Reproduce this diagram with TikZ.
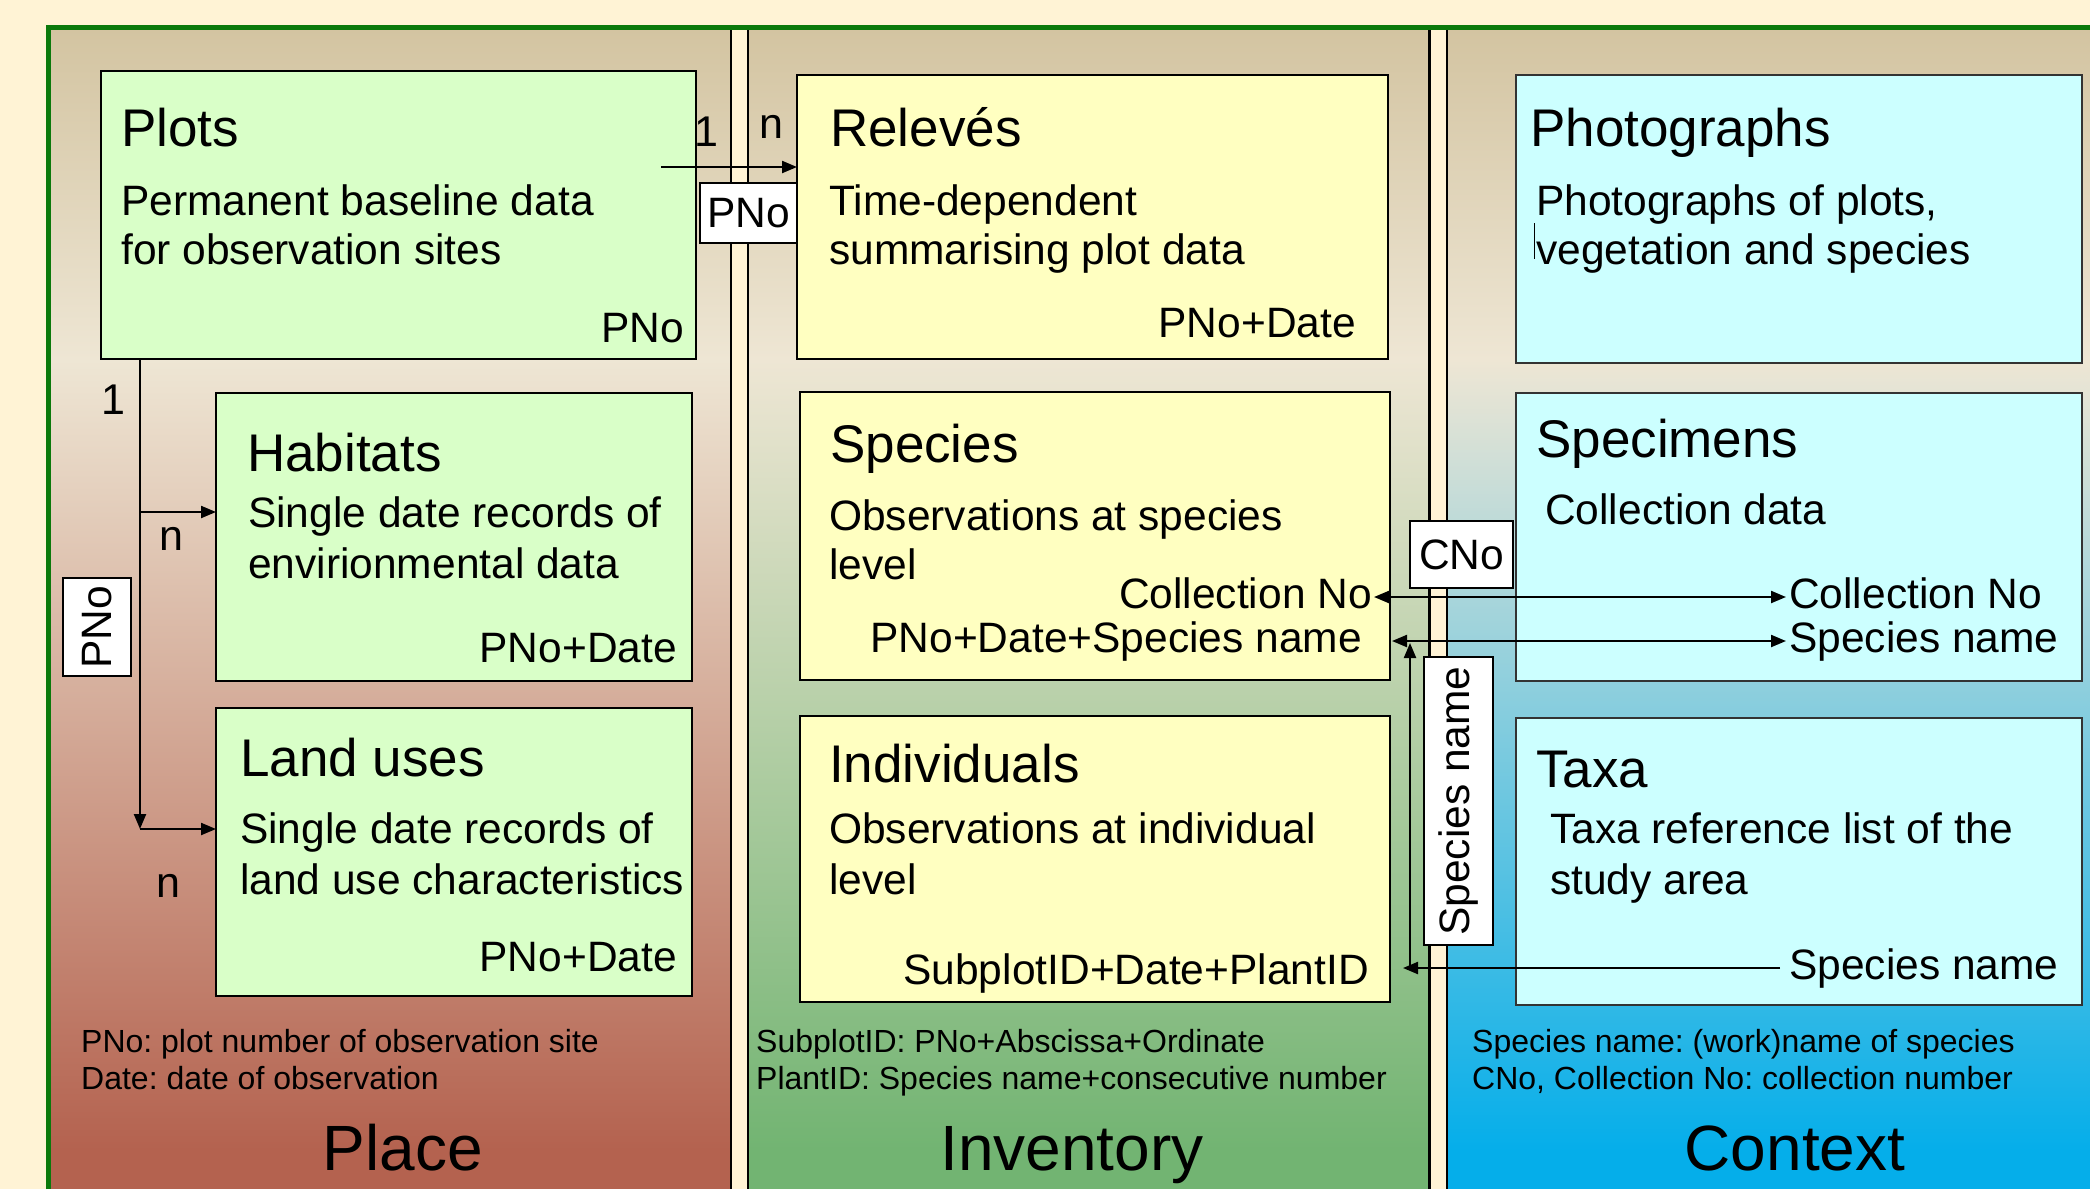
\documentclass[tikz,border=0pt]{standalone}
\usepackage{fontspec}
\setmainfont{Liberation Sans}
\usetikzlibrary{arrows.meta}
\frenchspacing

\definecolor{bgcream}{HTML}{FFF3D5}
\definecolor{framegreen}{HTML}{0B790B}
\definecolor{tan}{HTML}{D3C4A1}
\definecolor{paneLight}{HTML}{EEE6D4}
\definecolor{placeBot}{HTML}{B4624F}
\definecolor{invBot}{HTML}{72B472}
\definecolor{ctxBot}{HTML}{05AEEA}
\definecolor{placeFill}{HTML}{D9FFC8}
\definecolor{invFill}{HTML}{FFFFC1}
\definecolor{ctxFill}{HTML}{CCFFFF}
\definecolor{ctxEdge}{HTML}{333333}

\begin{document}
\begin{tikzpicture}[x=1pt,y=-1pt,
  tbox/.style={draw=black, line width=2.8pt, inner sep=0pt, outer sep=0pt},
  placebox/.style={tbox, fill=placeFill},
  invbox/.style={tbox, fill=invFill},
  ctxbox/.style={tbox, draw=ctxEdge, fill=ctxFill},
  ttl/.style={font=\fontsize{53}{60}\selectfont, inner sep=0pt, anchor=base west},
  body/.style={font=\fontsize{42.5}{50}\selectfont, inner sep=0pt, anchor=base west},
  keyR/.style={font=\fontsize{42.5}{50}\selectfont, inner sep=0pt, anchor=base east},
  keyL/.style={font=\fontsize{42.5}{50}\selectfont, inner sep=0pt, anchor=base west},
  card/.style={font=\fontsize{43}{50}\selectfont, inner sep=0pt, anchor=center},
  keybox/.style={draw=black, line width=2.4pt, fill=white, inner sep=0pt,
    font=\fontsize{42.5}{50}\selectfont},
  note/.style={font=\fontsize{32}{37}\selectfont, inner sep=0pt, anchor=base west},
  panelname/.style={font=\fontsize{64}{70}\selectfont, inner sep=0pt, anchor=base},
  conn/.style={draw=black, line width=2.2pt},
  tip/.style={-{Triangle[length=15pt,width=12pt]}},
  tips/.style={{Triangle[length=15pt,width=12pt]}-{Triangle[length=15pt,width=12pt]}},
  divider/.style={draw=black, line width=2.6pt}
]
\useasboundingbox (0,0) rectangle (2090,1189);
\fill[bgcream] (0,0) rectangle (2090,1189);

% ---- the three panels: tan at the top, light band, then their own colour
\shade[top color=tan, bottom color=paneLight] (50,29) rectangle (731,360);
\shade[top color=paneLight, bottom color=placeBot] (50,359.5) rectangle (731,1150);
\fill[placeBot] (50,1149.5) rectangle (731,1189);

\shade[top color=tan, bottom color=paneLight] (748,29) rectangle (1429,360);
\shade[top color=paneLight, bottom color=invBot] (748,359.5) rectangle (1429,1150);
\fill[invBot] (748,1149.5) rectangle (1429,1189);

\shade[top color=tan, bottom color=paneLight] (1447,29) rectangle (2090,360);
\shade[top color=paneLight, bottom color=ctxBot] (1447,359.5) rectangle (2090,1150);
\fill[ctxBot] (1447,1149.5) rectangle (2090,1189);

\draw[divider] (731,29) -- (731,1189);
\draw[divider] (748,29) -- (748,1189);
\draw[divider] (1429.5,29) -- (1429.5,1189);
\draw[divider] (1447,29) -- (1447,1189);

% outer frame
\draw[framegreen, line width=5pt] (48,1189) -- (48,27) -- (2090,27);

% ---- Place
\node[placebox, minimum width=595, minimum height=288] (plots) at (398.5,215) {};
\node[ttl]  (plots-t)  at (121,146) {Plots};
\node[body] (plots-b1) at (121,215) {Permanent baseline data};
\node[body] (plots-b2) at (121,264) {for observation sites};
\node[keyR] (plots-k)  at (684,342) {PNo};

\node[placebox, minimum width=476, minimum height=288] (habitats) at (454,537) {};
\node[ttl]  (habitats-t)  at (247,471) {Habitats};
\node[body] (habitats-b1) at (248,527) {Single date records of};
\node[body] (habitats-b2) at (248,578) {envirionmental data};
\node[keyR] (habitats-k)  at (677,662) {PNo+Date};

\node[placebox, minimum width=476, minimum height=288] (landuse) at (454,852) {};
\node[ttl]  (landuse-t)  at (240,776) {Land uses};
\node[body] (landuse-b1) at (240,843) {Single date records of};
\node[body] (landuse-b2) at (240,894) {land use characteristics};
\node[keyR] (landuse-k)  at (677,971) {PNo+Date};

\node[note] (place-n1) at (81,1052) {PNo: plot number of observation site};
\node[note] (place-n2) at (81,1089) {Date: date of observation};
\node[panelname] (place-name) at (403,1170) {Place};

% ---- Inventory
\node[invbox, minimum width=591, minimum height=284] (releves) at (1092.5,217) {};
\node[ttl]  (releves-t)  at (830,146) {Relevés};
\node[body] (releves-b1) at (829,215) {Time-dependent};
\node[body] (releves-b2) at (829,264) {summarising plot data};
\node[keyR] (releves-k)  at (1356,337) {PNo+Date};

\node[invbox, minimum width=590, minimum height=288] (species) at (1095,536) {};
\node[ttl]  (species-t)  at (830,462) {Species};
\node[body] (species-b1) at (829,530) {Observations at species};
\node[body] (species-b2) at (829,579) {level};
\node[keyR] (species-cno) at (1372,608) {Collection No};
\node[keyR] (species-k)   at (1362,652) {PNo+Date+Species name};

\node[invbox, minimum width=590, minimum height=286] (indiv) at (1095,859) {};
\node[ttl]  (indiv-t)  at (829,782) {Individuals};
\node[body] (indiv-b1) at (829,843) {Observations at individual};
\node[body] (indiv-b2) at (829,894) {level};
\node[keyR] (indiv-k)  at (1369,984) {SubplotID+Date+PlantID};

\node[note] (inv-n1) at (756,1052) {SubplotID: PNo+Abscissa+Ordinate};
\node[note] (inv-n2) at (756,1089) {PlantID: Species name+consecutive number};
\node[panelname] (inv-name) at (1072,1170) {Inventory};

% ---- Context
\node[ctxbox, minimum width=566, minimum height=288] (photos) at (1799,219) {};
\node[ttl]  (photos-t)  at (1530,146) {Photographs};
\node[body] (photos-b1) at (1536,215) {Photographs of plots,};
\node[body] (photos-b2) at (1536,264) {vegetation and species};
\draw[line width=1pt] (1534,223) -- (1534,259);

\node[ctxbox, minimum width=566, minimum height=288] (specimens) at (1799,537) {};
\node[ttl]  (specimens-t)  at (1536,457) {Specimens};
\node[body] (specimens-b1) at (1545,524) {Collection data};
\node[keyL] (specimens-cno) at (1789,608) {Collection No};
\node[keyL] (specimens-sp)  at (1789,652) {Species name};

\node[ctxbox, minimum width=566, minimum height=287] (taxa) at (1799,861.5) {};
\node[ttl]  (taxa-t)  at (1536,787) {Taxa};
\node[body] (taxa-b1) at (1550,843) {Taxa reference list of the};
\node[body] (taxa-b2) at (1550,894) {study area};
\node[keyL] (taxa-sp) at (1789,979) {Species name};

\node[note] (ctx-n1) at (1472,1052) {Species name: (work)name of species};
\node[note] (ctx-n2) at (1472,1089) {CNo, Collection No: collection number};
\node[panelname] (ctx-name) at (1795,1170) {Context};

% ---- Plots -> Relevés
\coordinate (pr-start) at (661,167);
\draw[conn, tip] (pr-start) -- (pr-start -| releves.west);
\node[card] (pr-1) at (706,132) {1};
\node[card] (pr-n) at (771,127) {n};
\node[keybox, minimum width=97, minimum height=60] (pr-key) at (748.5,213) {PNo};

% ---- Plots -> Habitats, Land uses
\coordinate (trunkx) at (140,0);
\coordinate (trunk-top) at (plots.south -| trunkx);
\coordinate (trunk-hab) at (140,512);
\coordinate (trunk-bot) at (140,829);
\draw[conn, tip] (trunk-top) -- (trunk-bot);
\draw[conn, tip] (trunk-hab) -- (trunk-hab -| habitats.west);
\draw[conn, tip] (trunk-bot) -- (trunk-bot -| landuse.west);
\node[card] (tr-1)  at (113,400) {1};
\node[card] (tr-n1) at (171,539) {n};
\node[card] (tr-n2) at (168,886) {n};
\node[keybox, rotate=90, minimum width=98, minimum height=68] (tr-key) at (97,627) {PNo};

% ---- Species <-> Specimens
\coordinate (cno-l) at (1374,597);
\coordinate (cno-r) at (1786,597);
\draw[conn, tips] (cno-l) -- (cno-r);
\node[keybox, minimum width=103, minimum height=67] (cno-key) at (1461.5,554.5) {CNo};

\coordinate (spn-l) at (1392,641);
\coordinate (spn-r) at (1786,641);
\draw[conn, tips] (spn-l) -- (spn-r);

% ---- Taxa -> Individuals and Species
\coordinate (tx-start) at (1780,968);
\coordinate (tx-join) at (1410,968);
\coordinate (tx-end) at (1403,968);
\coordinate (tx-up) at (1410,643);
\draw[conn, tip] (tx-start) -- (tx-end);
\draw[conn, tip] (tx-join) -- (tx-up);
\node[keybox, rotate=90, minimum width=288, minimum height=69] (sp-key) at (1458.5,801) {Species name};
\end{tikzpicture}
\end{document}
